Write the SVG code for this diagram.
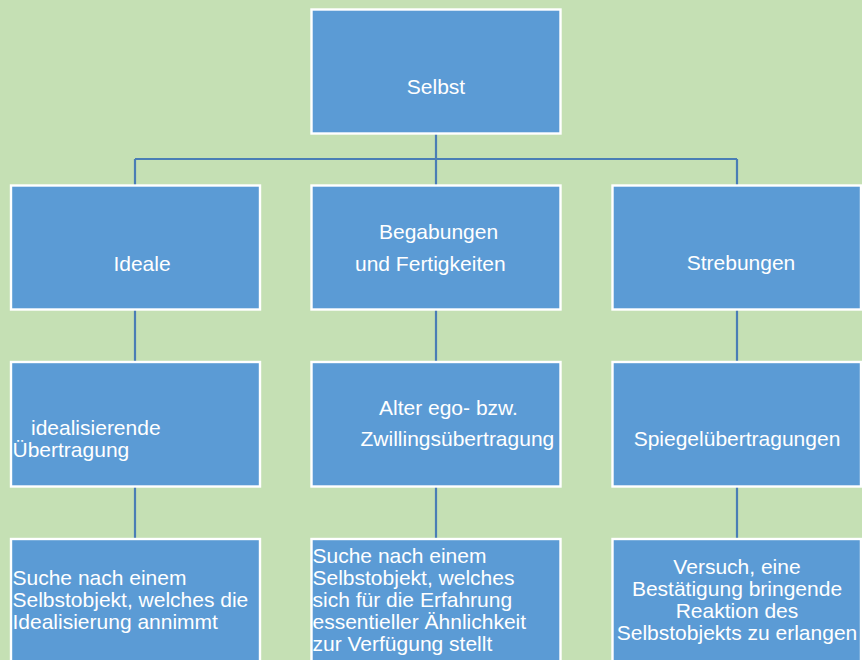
<svg xmlns="http://www.w3.org/2000/svg" width="862" height="660" viewBox="0 0 862 660">
<style>
.box{fill:#5B9BD5;stroke:#FFFFFF;stroke-width:2.4}
.con{stroke:#4A7EB5;stroke-width:2.2;fill:none}
text{font-family:"Liberation Sans",Arial,sans-serif;font-size:21px;fill:#FFFFFF}
.c{text-anchor:middle}
</style>
<rect width="862" height="660" fill="#C5E0B4"/>
<g id="connectors">
<path class="con" d="M436,134 V185 M135,159 H737 M135,159 V185 M737,159 V185"/>
<path class="con" d="M135,310 V362 M436,310 V362 M737,310 V362"/>
<path class="con" d="M135,487 V539 M436,487 V539 M737,487 V539"/>
</g>
<g id="selbst">
<rect class="box" x="311.5" y="9.5" width="249" height="124"/>
<text class="c" x="436" y="94">Selbst</text>
</g>
<g id="ideale">
<rect class="box" x="11" y="185.5" width="249" height="124"/>
<text class="c" x="142" y="271">Ideale</text>
</g>
<g id="begabungen">
<rect class="box" x="311.5" y="185.5" width="249" height="124"/>
<text x="379" y="239">Begabungen</text>
<text x="355" y="271">und Fertigkeiten</text>
</g>
<g id="strebungen">
<rect class="box" x="612.5" y="185.5" width="248.5" height="124"/>
<text class="c" x="741" y="270">Strebungen</text>
</g>
<g id="idealisierende">
<rect class="box" x="11" y="362" width="249" height="124.5"/>
<text x="31" y="435">idealisierende</text>
<text x="12.5" y="457">Übertragung</text>
</g>
<g id="zwilling">
<rect class="box" x="311.5" y="362" width="249" height="124.5"/>
<text x="379" y="415">Alter ego- bzw.</text>
<text x="360.5" y="446">Zwillingsübertragung</text>
</g>
<g id="spiegel">
<rect class="box" x="612.5" y="362" width="248.5" height="124.5"/>
<text class="c" x="737" y="446">Spiegelübertragungen</text>
</g>
<g id="suche1">
<rect class="box" x="11" y="539" width="249" height="130"/>
<text x="12.5" y="585">Suche nach einem</text>
<text x="12.5" y="607">Selbstobjekt, welches die</text>
<text x="12.5" y="629">Idealisierung annimmt</text>
</g>
<g id="suche2">
<rect class="box" x="311.5" y="539" width="249" height="130"/>
<text x="312.5" y="562.5">Suche nach einem</text>
<text x="312.5" y="584.5">Selbstobjekt, welches</text>
<text x="312.5" y="606.5">sich für die Erfahrung</text>
<text x="312.5" y="628.5">essentieller Ähnlichkeit</text>
<text x="312.5" y="650.5">zur Verfügung stellt</text>
</g>
<g id="versuch">
<rect class="box" x="612.5" y="539" width="248.5" height="130"/>
<text class="c" x="737" y="574">Versuch, eine</text>
<text class="c" x="737" y="596">Bestätigung bringende</text>
<text class="c" x="737" y="618">Reaktion des</text>
<text class="c" x="737" y="640">Selbstobjekts zu erlangen</text>
</g>
</svg>
